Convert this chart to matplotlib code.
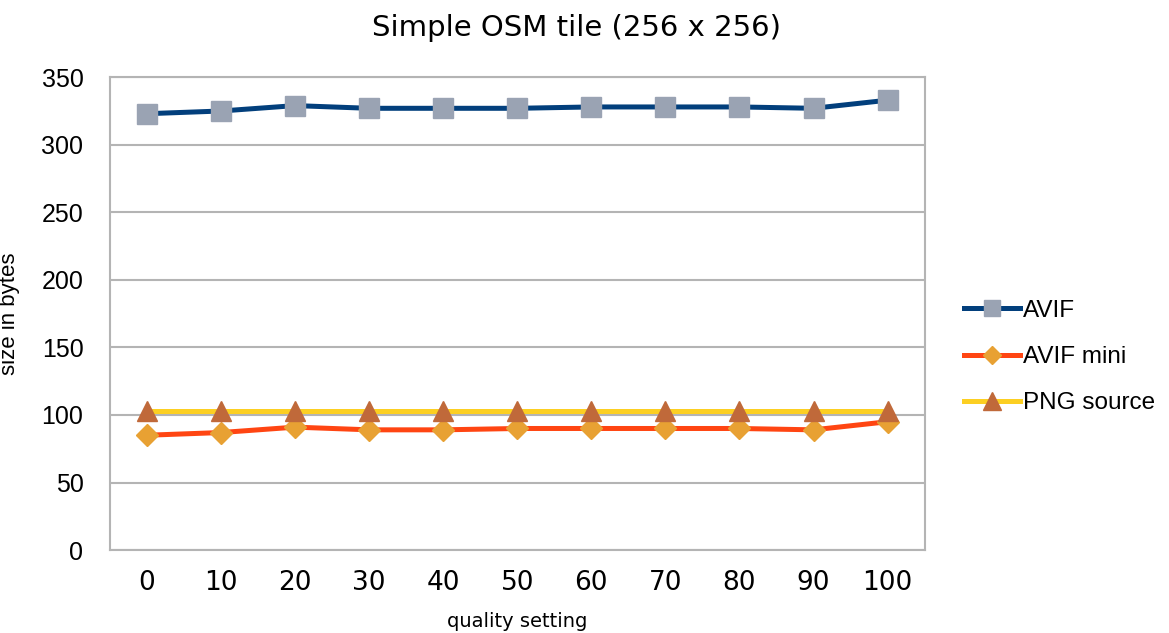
import matplotlib.pyplot as plt
import numpy as np

# data
quality = ['0', '10', '20', '30', '40', '50', '60', '70', '80', '90', '100']
avif = [323, 325, 329, 327, 327, 327, 328, 328, 328, 327, 333]
avif_mini = [85, 87, 91, 89, 89, 90, 90, 90, 90, 89, 95]
png_source = [103, 103, 103, 103, 103, 103, 103, 103, 103, 103, 103]

plt.rcParams['font.family'] = ['Liberation Sans', 'DejaVu Sans']

fig = plt.figure(figsize=(11.69, 6.33), dpi=100)
ax = fig.add_axes([0.094, 0.131, 0.697, 0.747])

x = np.arange(len(quality))
grid_col = '#b4b4b4'

ax.plot(x, avif, color='#023f7c', lw=3.6, marker='s', ms=14,
        mfc='#9aa3b3', mec='#9aa3b3', label='AVIF', zorder=3)
ax.plot(x, avif_mini, color='#ff4512', lw=3.6, marker='D', ms=11,
        mfc='#e8a133', mec='#e8a133', label='AVIF mini', zorder=3)
ax.plot(x, png_source, color='#fccf22', lw=3.6, marker='^', ms=15,
        mfc='#c0693a', mec='#c0693a', label='PNG source', zorder=4)

ax.set_xlim(-0.5, 10.5)
ax.set_ylim(0, 350)
ax.set_yticks(range(0, 351, 50))
ax.set_xticks(x)
ax.set_xticklabels(quality, fontsize=19, family='DejaVu Sans')
ax.tick_params(axis='y', labelsize=18, length=0, pad=19)
ax.tick_params(axis='x', length=0, pad=14)
ax.grid(axis='y', color=grid_col, lw=1.5)
ax.set_axisbelow(True)
for s in ax.spines.values():
    s.set_color(grid_col)
    s.set_linewidth(1.5)

ax.set_ylabel('size in bytes', fontsize=16)
ax.yaxis.set_label_coords(-0.11, 0.5)
ax.set_xlabel('quality setting', fontsize=14, family='DejaVu Sans', labelpad=12)
fig.text(0.493, 0.955, 'Simple OSM tile (256 x 256)', fontsize=21,
         family='DejaVu Sans', ha='center', va='center')

leg = ax.legend(loc='center left', bbox_to_anchor=(1.022, 0.408), frameon=False,
                fontsize=17.5, handlelength=2.3, handletextpad=0.1, labelspacing=1.0,
                markerscale=0.85)

fig.savefig('out.png', dpi=100)
